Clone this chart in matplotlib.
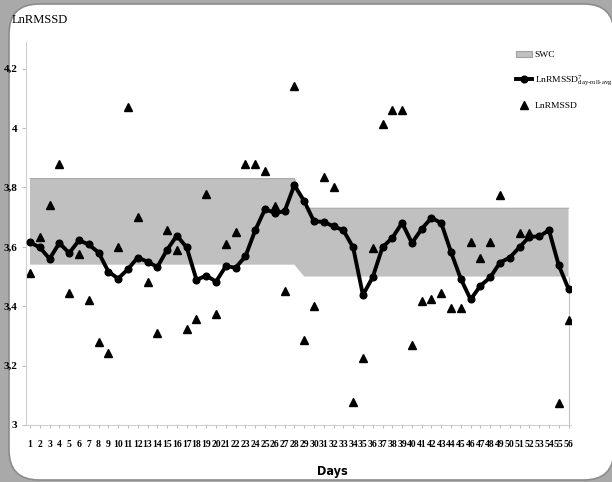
import numpy as np
import matplotlib
matplotlib.use('Agg')
import matplotlib.pyplot as plt
from matplotlib.patches import FancyBboxPatch, Patch
from matplotlib.lines import Line2D
from matplotlib.transforms import IdentityTransform

plt.rcParams['mathtext.fontset'] = 'custom'
plt.rcParams['mathtext.rm'] = 'Liberation Serif'
plt.rcParams['mathtext.it'] = 'Liberation Serif:italic'

########################################
# data

days = np.arange(1, 57)

# 7 day rolling average of LnRMSSD
roll_avg = [3.615, 3.598, 3.560, 3.613, 3.579, 3.622, 3.608, 3.581, 3.517, 3.493,
            3.525, 3.564, 3.550, 3.532, 3.590, 3.638, 3.598, 3.489, 3.503, 3.483,
            3.535, 3.530, 3.568, 3.656, 3.727, 3.714, 3.720, 3.808, 3.754, 3.686,
            3.684, 3.669, 3.656, 3.598, 3.438, 3.498, 3.599, 3.630, 3.681, 3.613,
            3.660, 3.698, 3.680, 3.582, 3.492, 3.423, 3.469, 3.497, 3.547, 3.564,
            3.599, 3.634, 3.635, 3.656, 3.538, 3.458]

# daily LnRMSSD (nan where the value sits under the average line)
nan = np.nan
daily = [3.512, 3.632, 3.740, 3.879, 3.444, 3.576, 3.420, 3.280, 3.242, 3.598,
         4.071, 3.700, 3.483, 3.309, 3.658, 3.588, 3.323, 3.356, 3.778, 3.374,
         3.609, 3.649, 3.879, 3.879, 3.854, 3.736, 3.450, 4.141, 3.287, 3.401,
         3.835, 3.800, nan, 3.079, 3.225, 3.596, 4.015, 4.060, 4.062, 3.270,
         3.416, 3.424, 3.444, 3.393, 3.393, 3.615, 3.562, 3.618, 3.776, nan,
         3.647, 3.647, nan, nan, 3.073, 3.352]

# smallest worthwhile change band (first and second block)
swc_low = [3.54] * 28 + [3.50] * 28
swc_high = [3.83] * 28 + [3.73] * 28

yticks = [3.0, 3.2, 3.4, 3.6, 3.8, 4.0, 4.2]
ytick_labels = ['3', '3,2', '3,4', '3,6', '3,8', '4', '4,2']

W, H = 612, 482

########################################
# figure with rounded white panel on gray

fig = plt.figure(figsize=(W / 100, H / 100), dpi=100)
fig.patch.set_facecolor('#a9a9a9')
panel = FancyBboxPatch((9, 2), 605, 476, boxstyle='round,pad=0,rounding_size=30',
                       transform=IdentityTransform(), facecolor='white',
                       edgecolor='#8c8c8c', lw=1.2, zorder=0)
fig.patches.append(panel)

ax = fig.add_axes([26 / W, 57 / H, 545 / W, 383 / H])
ax.set_facecolor('none')
ax.set_zorder(1)

# SWC band
ax.fill_between(days, swc_low, swc_high, facecolor='#c0c0c0', edgecolor='none', zorder=1)
ax.plot(days, swc_high, color='#a8a8a8', lw=0.8, zorder=1)
ax.plot([days[-1], days[-1]], [3.0, swc_low[-1]], color='#c4c4c4', lw=0.8, zorder=1)

# daily values and rolling average
ax.plot(days, daily, ls='none', marker='^', color='black', ms=6, zorder=2)
ax.plot(days, roll_avg, color='black', lw=2.8, marker='o', ms=4.8, zorder=3)

ax.set_xlim(0.59, 56.25)
ax.set_ylim(3.0, 4.29)

for s in ['top', 'right']:
    ax.spines[s].set_visible(False)
for s in ['left', 'bottom']:
    ax.spines[s].set_color('#cfcfcf')
    ax.spines[s].set_linewidth(0.8)

ax.set_xticks(days)
ax.set_xticklabels([str(d) for d in days], fontfamily='Liberation Serif',
                   fontweight='bold', fontsize=6.9)
ax.set_yticks(yticks)
ax.set_yticklabels(ytick_labels, fontfamily='Liberation Serif',
                   fontweight='bold', fontsize=8)
ax.tick_params(axis='x', length=2, color='#bdbdbd', pad=9)
ax.tick_params(axis='y', length=3, color='#bdbdbd', pad=3)

fig.text(12 / W, 1 - 20 / H, 'LnRMSSD', ha='left', va='center',
         fontfamily='Liberation Serif', fontsize=9)
fig.text(332 / W, 1 - 472 / H, 'Days', ha='center', va='center',
         fontfamily='DejaVu Sans', fontstretch='condensed', fontweight='bold', fontsize=9)

handles = [Patch(facecolor='#c0c0c0', edgecolor='#a0a0a0', lw=0.8),
           Line2D([], [], color='black', lw=2.8, marker='o', ms=4.8),
           Line2D([], [], ls='none', color='black', marker='^', ms=6)]
labels = ['SWC', 'LnRMSSD$^{7}_{\\text{day-roll-avg}}$', 'LnRMSSD']
leg = ax.legend(handles, labels, loc='upper left', bbox_to_anchor=(511 / W, 1 - 46 / H),
                bbox_transform=fig.transFigure, frameon=False,
                prop={'family': 'Liberation Serif', 'size': 6.8},
                handlelength=1.7, handletextpad=0.3, labelspacing=1.5, borderpad=0)

fig.savefig('out.png', dpi=100, facecolor=fig.get_facecolor())
